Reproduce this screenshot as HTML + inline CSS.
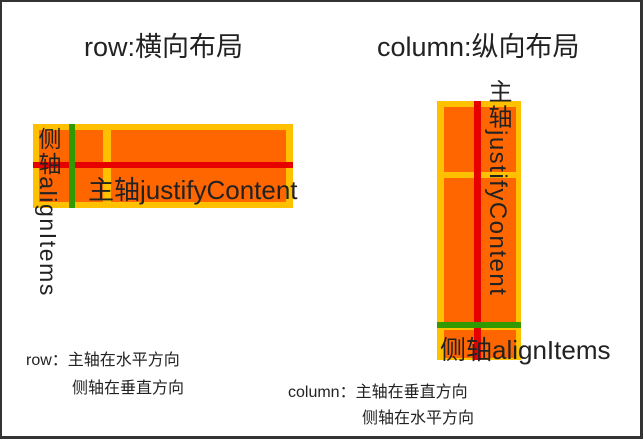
<!DOCTYPE html>
<html><head><meta charset="utf-8"><style>
body{margin:0;width:643px;height:439px;overflow:hidden;background:#fff;font-family:"Liberation Sans","Noto Sans CJK SC",sans-serif;color:#222}
.f{position:absolute;left:0;top:0;border:2px solid #333;border-bottom-width:3px;border-right-width:3px;box-sizing:border-box;width:643px;height:439px}
.a{position:absolute}
.y{background:#ffc000}.o{background:#ff6600}.r{background:#e60000}.g{background:#339900}
.t{position:absolute;white-space:nowrap}
.v{writing-mode:vertical-rl;}
</style></head><body>
<div class="f"></div>
<div class="t" style="left:84px;top:25px;font-size:27px">row:横向布局</div>
<div class="t" style="left:377px;top:25px;font-size:27px">column:纵向布局</div>

<div class="a y" style="left:33px;top:124px;width:260px;height:84px"></div>
<div class="a o" style="left:39px;top:130px;width:64px;height:72px"></div>
<div class="a o" style="left:111px;top:130px;width:175px;height:72px"></div>
<div class="a r" style="left:33px;top:162px;width:260px;height:6px"></div>
<div class="a g" style="left:69px;top:124px;width:6px;height:84px"></div>
<div class="t v" style="left:35px;top:127px;font-size:23px;line-height:26px;letter-spacing:1.6px">侧轴alignItems</div>
<div class="t" style="left:88px;top:170px;font-size:26px">主轴justifyContent</div>

<div class="a y" style="left:437px;top:101px;width:84px;height:259px"></div>
<div class="a o" style="left:444px;top:107px;width:72px;height:65px"></div>
<div class="a o" style="left:444px;top:178px;width:72px;height:144px"></div>
<div class="a o" style="left:444px;top:330px;width:72px;height:28px"></div>
<div class="a r" style="left:474px;top:101px;width:7px;height:259px"></div>
<div class="a g" style="left:437px;top:322px;width:84px;height:6px"></div>
<div class="t v" style="left:483px;top:79px;font-size:24px;line-height:28px;letter-spacing:1.5px">主轴justifyContent</div>
<div class="t" style="left:440px;top:330px;font-size:26px">侧轴alignItems</div>

<div class="t" style="left:26px;top:346px;font-size:16px">row：主轴在水平方向</div>
<div class="t" style="left:72px;top:374px;font-size:16px">侧轴在垂直方向</div>
<div class="t" style="left:288px;top:378px;font-size:16px">column：主轴在垂直方向</div>
<div class="t" style="left:362px;top:404px;font-size:16px">侧轴在水平方向</div>
</body></html>
